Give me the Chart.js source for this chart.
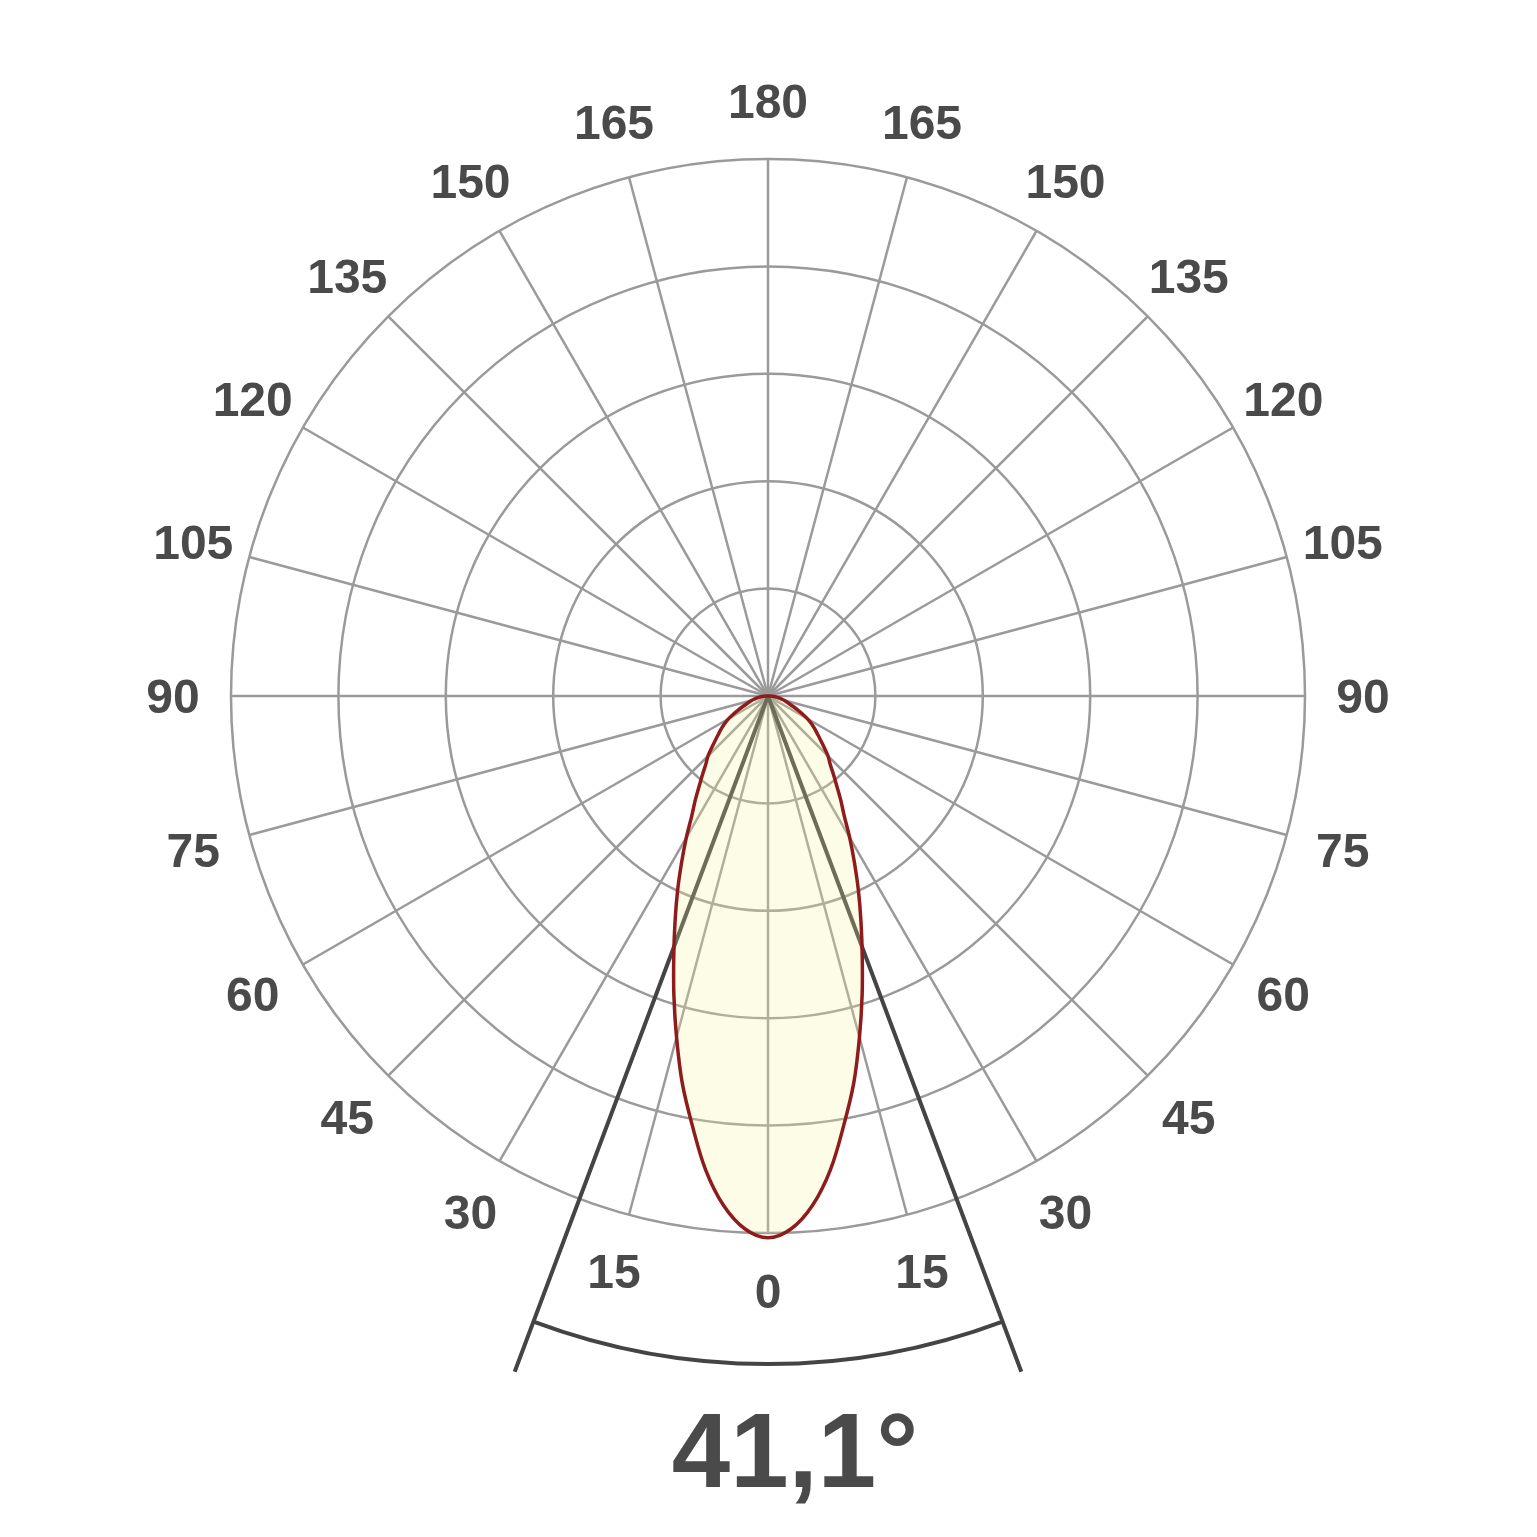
<!DOCTYPE html>
<html>
<head>
<meta charset="utf-8">
<script src="https://cdn.jsdelivr.net/npm/chart.js@4.4.1/dist/chart.umd.min.js"></script>
<style>
  html, body { margin: 0; padding: 0; background: #ffffff; }
  canvas { display: block; }
</style>
</head>
<body>
<canvas id="c" width="1537" height="1537"></canvas>
<script>
// Polar angles (degrees), one sample every 2.5° around the circle
const angles = [
  0,2.5,5,7.5,10,12.5,15,17.5,20,22.5,25,27.5,30,32.5,35,37.5,40,42.5,45,47.5,
  50,52.5,55,57.5,60,62.5,65,67.5,70,72.5,75,77.5,80,82.5,85,87.5,90,92.5,95,97.5,
  100,102.5,105,107.5,110,112.5,115,117.5,120,122.5,125,127.5,130,132.5,135,137.5,140,142.5,145,147.5,
  150,152.5,155,157.5,160,162.5,165,167.5,170,172.5,175,177.5,180,182.5,185,187.5,190,192.5,195,197.5,
  200,202.5,205,207.5,210,212.5,215,217.5,220,222.5,225,227.5,230,232.5,235,237.5,240,242.5,245,247.5,
  250,252.5,255,257.5,260,262.5,265,267.5,270,272.5,275,277.5,280,282.5,285,287.5,290,292.5,295,297.5,
  300,302.5,305,307.5,310,312.5,315,317.5,320,322.5,325,327.5,330,332.5,335,337.5,340,342.5,345,347.5,
  350,352.5,355,357.5];

// Relative luminous intensity (% of outer ring) at each angle
const intensity = [
  100.9,99.3,95.2,89.0,81.2,73.8,65.8,58.3,51.3,45.2,39.8,34.8,30.4,26.4,23.6,21.0,18.9,17.1,15.8,14.2,
  12.8,11.6,10.6,9.6,8.5,7.2,6.0,5.0,4.2,3.6,3.1,2.6,2.1,1.6,1.1,0.5,0,
  0,0,0,0,0,0,0,0,0,0,
  0,0,0,0,0,0,0,0,0,0,
  0,0,0,0,0,0,0,0,0,0,
  0,0,0,0,0,0,0,0,0,0,
  0,0,0,0,0,0,0,0,0,0,
  0,0,0,0,0,0,0,0,0,0,
  0,0,0,0,0,0,0,0,0,0,
  0,
  0,0.5,1.1,1.6,2.1,2.6,3.1,3.6,4.2,5.0,6.0,7.2,8.5,9.6,10.6,11.6,12.8,14.2,15.8,17.1,
  18.9,21.0,23.6,26.4,30.4,34.8,39.8,45.2,51.3,58.3,65.8,73.8,81.2,89.0,95.2,99.3];

// Angle labels shown every 15°
const tickLabels = ['0','15','30','45','60','75','90','105','120','135','150','165',
  '180','165','150','135','120','105','90','75','60','45','30','15'];

const ringValues = [20,40,60,80,100];
const beamAngle = 41.1;
const beamText = '41,1°';
const labelStep = 6; // 15° / 2.5°

const labelPlugin = {
  id: 'angleLabels',
  afterDraw(chart) {
    const s = chart.scales.r;
    const ctx = chart.ctx;
    ctx.save();
    ctx.fillStyle = '#4a4a4a';
    ctx.font = 'bold 48px "Liberation Sans", Arial, sans-serif';
    ctx.textAlign = 'center';
    ctx.textBaseline = 'middle';
    tickLabels.forEach((t, k) => {
      const p = s.getPointPosition(k * labelStep, s.drawingArea + 58);
      ctx.fillText(t, p.x, p.y + 4);
    });
    // beam angle text
    ctx.font = 'bold 105px "Liberation Sans", Arial, sans-serif';
    ctx.textBaseline = 'alphabetic';
    ctx.fillText(beamText, s.xCenter + 27, s.yCenter + 791);
    ctx.restore();
  }
};

const beamPlugin = {
  id: 'beamLines',
  beforeDatasetsDraw(chart) {
    const s = chart.scales.r;
    const ctx = chart.ctx;
    const R = s.drawingArea;
    const half = beamAngle / 2 * Math.PI / 180;
    const xc = s.xCenter, yc = s.yCenter;
    const L = R * 1.344;
    ctx.save();
    ctx.strokeStyle = '#444444';
    ctx.lineWidth = 4;
    ctx.lineCap = 'butt';
    ctx.beginPath();
    ctx.moveTo(xc, yc);
    ctx.lineTo(xc - L * Math.sin(half), yc + L * Math.cos(half));
    ctx.moveTo(xc, yc);
    ctx.lineTo(xc + L * Math.sin(half), yc + L * Math.cos(half));
    ctx.stroke();
    ctx.beginPath();
    ctx.arc(xc, yc, R * 1.244, Math.PI / 2 - half, Math.PI / 2 + half);
    ctx.stroke();
    ctx.restore();
  }
};

new Chart(document.getElementById('c'), {
  type: 'radar',
  data: {
    labels: angles,
    datasets: [{
      data: intensity,
      borderColor: '#8e1c1c',
      borderWidth: 3.5,
      backgroundColor: 'rgba(247,243,150,0.24)',
      fill: true,
      pointRadius: 0,
      pointHoverRadius: 0,
      tension: 0.35,
      capBezierPoints: false,
      clip: false
    }]
  },
  options: {
    responsive: false,
    animation: false,
    devicePixelRatio: 1,
    elements: { line: { capBezierPoints: false } },
    layout: { padding: { left: 231, right: 232, top: 159, bottom: 304 } },
    plugins: { legend: { display: false }, tooltip: { enabled: false } },
    scales: {
      r: {
        min: 0,
        max: ringValues[ringValues.length - 1],
        startAngle: 180,
        ticks: { display: false, stepSize: ringValues[0] },
        pointLabels: { display: false },
        grid: { circular: true, color: '#9a9a9a', lineWidth: 2.5 },
        angleLines: {
          display: true,
          color: '#9a9a9a',
          lineWidth: (ctx) => (ctx.index % labelStep === 0 ? 2.5 : 0)
        }
      }
    }
  },
  plugins: [beamPlugin, labelPlugin]
});
</script>
</body>
</html>
